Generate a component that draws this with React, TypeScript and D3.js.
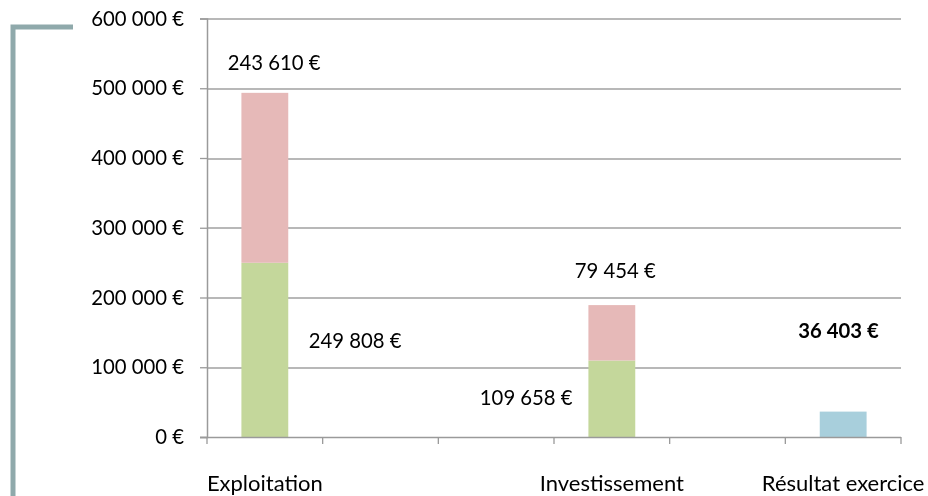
import { useEffect, useRef } from "react";
import * as d3 from "d3";

// six slots on the x axis, only three carry a label
const CATEGORIES = ["Exploitation", "", "", "Investissement", "", "Résultat exercice"];
const SLOT_KEYS = ["exp", "s1", "s2", "inv", "s4", "res"];

// stacked parts per slot (green = recettes, pink = dépenses, blue = résultat)
const GREEN = [249808, 0, 0, 109658, 0, 0];
const PINK = [243610, 0, 0, 79454, 0, 0];
const BLUE = [0, 0, 0, 0, 0, 36403];

const Y_TICKS = [0, 100000, 200000, 300000, 400000, 500000, 600000];

// value labels: slot, value shown, horizontal offset in slot steps, vertical centre (in axis units)
const LABELS = [
  { slot: "exp", value: 243610, dx: 0.08, at: 537000, bold: false },
  { slot: "exp", value: 249808, dx: 0.78, at: 137600, bold: false },
  { slot: "inv", value: 79454, dx: 0.03, at: 238000, bold: false },
  { slot: "inv", value: 109658, dx: -0.74, at: 55900, bold: false },
  { slot: "res", value: 36403, dx: -0.04, at: 152000, bold: true },
];

const COLORS = { green: "#c4d79b", pink: "#e6b9b8", blue: "#a8cfdc" };
const FONT = "Lato, 'Open Sans', sans-serif";
const NUM_SIZE = 20.3;
const CAT_SIZE = 22;

const fmt = (v: number) => d3.format(",")(v).replace(/,/g, " ") + " €";

export default function App() {
  const svgRef = useRef<SVGSVGElement>(null);

  useEffect(() => {
    const width = 928;
    const height = 496;
    const margin = { top: 18.5, right: 27, bottom: 59, left: 207 };
    const innerWidth = width - margin.left - margin.right;
    const innerHeight = height - margin.top - margin.bottom;

    const svg = d3.select(svgRef.current);
    svg.selectAll("*").remove();
    svg.attr("width", width).attr("height", height);

    // odd bracket at the left edge
    svg
      .append("path")
      .attr("d", "M13,496 V27 H73")
      .attr("fill", "none")
      .attr("stroke", "#8fa9ab")
      .attr("stroke-width", 5);

    const x = d3.scaleBand<string>().domain(SLOT_KEYS).range([0, innerWidth]).padding(0);
    const step = x.step();
    const barW = step * 0.405;

    const y = d3.scaleLinear().domain([0, 600000]).range([innerHeight, 0]);

    const g = svg.append("g").attr("transform", `translate(${margin.left},${margin.top})`);

    // gridlines
    g.append("g")
      .selectAll("line")
      .data(Y_TICKS.slice(1))
      .join("line")
      .attr("x1", 0)
      .attr("x2", innerWidth)
      .attr("y1", (d) => Math.round(y(d)) + 0.5)
      .attr("y2", (d) => Math.round(y(d)) + 0.5)
      .attr("stroke", "#a0a0a0")
      .attr("stroke-width", 1.3);

    // y axis
    const yAxis = g
      .append("g")
      .call(d3.axisLeft(y).tickValues(Y_TICKS).tickFormat((d) => fmt(+d)).tickSize(7).tickPadding(16));
    yAxis.select(".domain").attr("stroke", "#9a9a9a").attr("stroke-width", 1.5);
    yAxis.selectAll(".tick line").attr("stroke", "#9a9a9a").attr("stroke-width", 1.3);
    yAxis
      .selectAll("text")
      .attr("font-family", FONT)
      .attr("font-size", NUM_SIZE)
      .attr("fill", "#000");

    // bars
    SLOT_KEYS.forEach((key, i) => {
      const cx = (x(key) ?? 0) + step / 2;
      const parts = [
        { v0: 0, v1: GREEN[i], color: COLORS.green },
        { v0: GREEN[i], v1: GREEN[i] + PINK[i], color: COLORS.pink },
        { v0: 0, v1: BLUE[i], color: COLORS.blue },
      ].filter((p) => p.v1 > p.v0);
      g.append("g")
        .selectAll("rect")
        .data(parts)
        .join("rect")
        .attr("x", cx - barW / 2)
        .attr("width", barW)
        .attr("y", (p) => y(p.v1))
        .attr("height", (p) => y(p.v0) - y(p.v1))
        .attr("fill", (p) => p.color);
    });

    // x axis
    const xAxis = g.append("g").attr("transform", `translate(0,${innerHeight})`);
    xAxis
      .append("line")
      .attr("x1", -7)
      .attr("x2", innerWidth)
      .attr("y1", 0.5)
      .attr("y2", 0.5)
      .attr("stroke", "#9a9a9a")
      .attr("stroke-width", 1.5);
    xAxis
      .selectAll("line.tick")
      .data(d3.range(SLOT_KEYS.length + 1))
      .join("line")
      .attr("class", "tick")
      .attr("x1", (i) => i * step)
      .attr("x2", (i) => i * step)
      .attr("y1", 0)
      .attr("y2", 7)
      .attr("stroke", "#9a9a9a")
      .attr("stroke-width", 1.3);
    xAxis
      .selectAll("text")
      .data(CATEGORIES.map((c, i) => ({ c, key: SLOT_KEYS[i] })).filter((d) => d.c))
      .join("text")
      .attr("x", (d) => (x(d.key) ?? 0) + step / 2)
      .attr("y", 54)
      .attr("text-anchor", "middle")
      .attr("font-family", FONT)
      .attr("font-size", CAT_SIZE)
      .attr("fill", "#000")
      .text((d) => d.c);

    // value labels
    g.append("g")
      .selectAll("text")
      .data(LABELS)
      .join("text")
      .attr("x", (d) => (x(d.slot) ?? 0) + step / 2 + d.dx * step)
      .attr("y", (d) => y(d.at))
      .attr("dy", "0.36em")
      .attr("text-anchor", "middle")
      .attr("font-family", FONT)
      .attr("font-size", NUM_SIZE)
      .attr("font-weight", (d) => (d.bold ? 700 : 400))
      .attr("fill", "#000")
      .text((d) => fmt(d.value));
  }, []);

  return (
    <div style={{ position: "fixed", left: 0, top: 0, width: 928, height: 496, overflow: "hidden" }}>
      <svg ref={svgRef} style={{ display: "block" }} />
    </div>
  );
}
